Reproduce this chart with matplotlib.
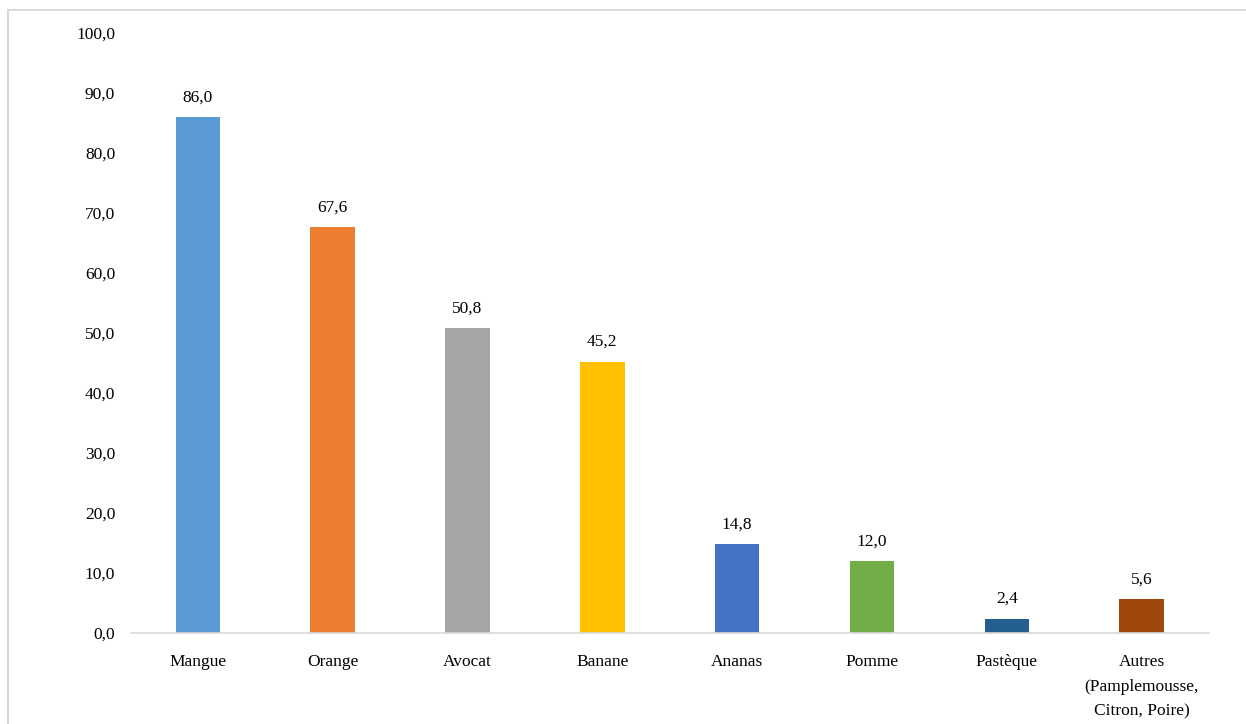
import matplotlib
matplotlib.use("Agg")
import matplotlib.pyplot as plt
from matplotlib.lines import Line2D

categories = ["Mangue", "Orange", "Avocat", "Banane", "Ananas", "Pomme", "Pastèque",
              "Autres\n(Pamplemousse,\nCitron, Poire)"]
values = [86.0, 67.6, 50.8, 45.2, 14.8, 12.0, 2.4, 5.6]
colors = ["#5B9BD5", "#ED7D31", "#A5A5A5", "#FFC000", "#4472C4", "#70AD47", "#255E91", "#9E480E"]
yticks = [0, 10, 20, 30, 40, 50, 60, 70, 80, 90, 100]

plt.rcParams['font.family'] = ['Liberation Serif', 'DejaVu Serif']

W, H = 1246, 724
fig = plt.figure(figsize=(W / 100, H / 100), dpi=100)
ax = fig.add_axes([130.5 / W, 1 - 633 / H, (1209 - 130.5) / W, (633 - 33) / H])

x = list(range(len(categories)))
bars = ax.bar(x, values, width=0.33, color=colors)
for xi, v in zip(x, values):
    ax.annotate(f"{v:.1f}".replace(".", ","), (xi, v), xytext=(0, 8.5), textcoords="offset points",
                ha="center", va="bottom", fontsize=12.5)

ax.set_xlim(-0.5, len(categories) - 0.5)
ax.set_ylim(0, 100)
ax.set_yticks(yticks)
ax.set_yticklabels([f"{t:.1f}".replace(".", ",") for t in yticks], fontsize=12.5)
ax.set_xticks(x)
ax.set_xticklabels(categories, fontsize=12.5, linespacing=1.75, va="top")
ax.tick_params(axis="both", length=0)
ax.tick_params(axis="y", pad=11)
ax.tick_params(axis="x", pad=15)
for s in ["top", "right", "left"]:
    ax.spines[s].set_visible(False)
ax.spines["bottom"].set_color("#D9D9D9")
ax.spines["bottom"].set_linewidth(1.2)

# outer frame (top and left visible)
fig.add_artist(Line2D([8 / W, 1], [1 - 10 / H, 1 - 10 / H], transform=fig.transFigure,
                      color="#D9D9D9", lw=1.5))
fig.add_artist(Line2D([8 / W, 8 / W], [0, 1 - 10 / H], transform=fig.transFigure,
                      color="#D9D9D9", lw=1.5))

fig.savefig("out.png", dpi=100)
